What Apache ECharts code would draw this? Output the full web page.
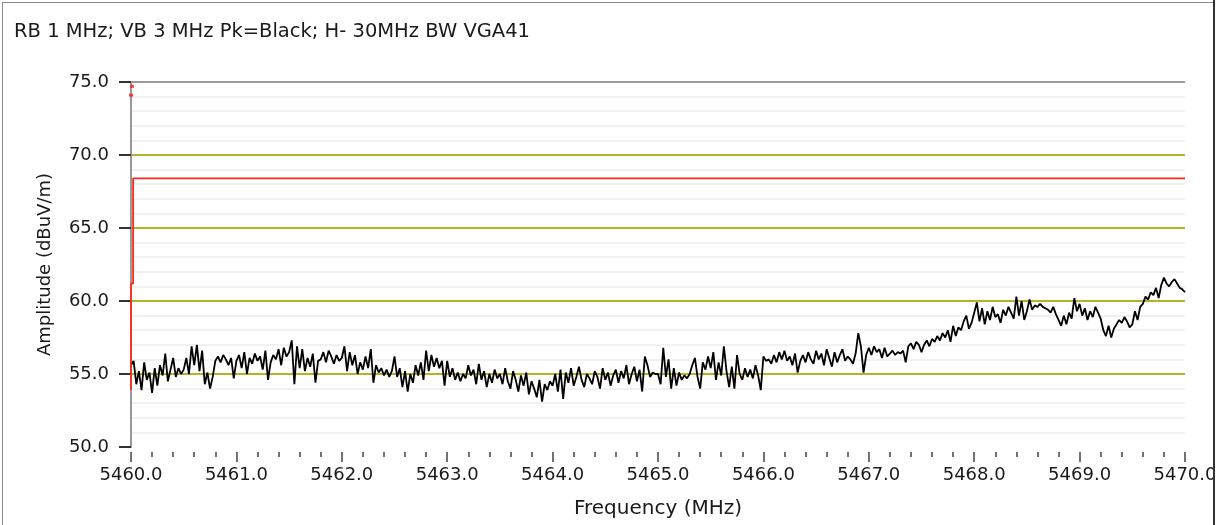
<!DOCTYPE html>
<html>
<head>
<meta charset="utf-8">
<script src="https://cdn.jsdelivr.net/npm/echarts@6/dist/echarts.min.js"></script>
<style>
  html, body { margin: 0; padding: 0; background: #fff; }
  #chart { position: absolute; left: 0; top: 0; width: 1214px; height: 525px; overflow: hidden; }
  #frameL { position: absolute; left: 2px; top: 2px; width: 1px; height: 523px; background: #8a8a8a; }
  #frameT { position: absolute; left: 2px; top: 2px; width: 1212px; height: 1px; background: #8a8a8a; }
  #frameR { position: absolute; left: 1213px; top: 0; width: 2px; height: 525px; background: #333; }
</style>
</head>
<body>
<div id="chart"></div>
<div id="frameL"></div><div id="frameT"></div><div id="frameR"></div>
<script>
// ---- data ----
const titleText = 'RB 1 MHz; VB 3 MHz Pk=Black; H- 30MHz BW VGA41';
const xName = 'Frequency (MHz)';
const yName = 'Amplitude (dBuV/m)';
const freqStart = 5460.0;   // MHz, sweep start
const freqStep = 0.025;     // MHz, sweep point spacing
const xMin = 5460, xMax = 5470, xInterval = 1;
const yMin = 50, yMax = 75, yInterval = 5;

// peak trace (dBuV/m), one point per 0.025 MHz
const peakTrace = [
  55.6, 55.9, 54.3, 55.2, 53.9, 55.8, 54.6, 55.1, 53.7, 55.4, 54.2, 55.6, 54.9, 56.4, 54.5, 55.3, 56.1, 54.8, 55.4, 55.0,
  55.3, 56.1, 55.0, 56.9, 55.6, 57.0, 55.2, 56.6, 54.3, 55.1, 54.0, 54.8, 55.9, 56.2, 55.8, 56.3, 56.0, 55.6, 56.1, 54.7,
  55.9, 56.3, 55.4, 56.5, 55.0, 56.1, 55.7, 56.4, 55.9, 56.2, 55.3, 56.6, 54.6, 55.8, 56.3, 56.0, 56.7, 55.6, 56.8, 56.2,
  56.5, 57.3, 54.3, 56.9, 55.4, 56.7, 55.2, 56.1, 55.5, 56.4, 54.4, 55.9, 56.0, 56.5, 55.8, 56.6, 56.2, 55.7, 56.3, 55.9,
  56.1, 56.9, 55.2, 56.5, 55.6, 56.3, 55.0, 55.8, 55.3, 56.2, 55.4, 56.7, 54.4, 55.6, 55.1, 55.4, 54.9, 55.3, 54.8, 55.2,
  56.2, 54.8, 55.4, 54.1, 55.2, 53.8, 55.0, 54.4, 55.6, 54.9, 55.8, 54.6, 56.6, 55.2, 56.3, 55.5, 56.1, 55.4, 55.9, 54.2,
  55.9, 54.8, 55.4, 54.6, 55.1, 54.5, 55.0, 54.7, 55.6, 54.9, 55.3, 54.3, 55.7, 54.6, 55.2, 54.1, 55.0, 54.4, 55.3, 54.7,
  55.0, 54.3, 55.4, 54.5, 54.0, 55.2, 54.6, 53.8, 54.9, 54.2, 55.1, 53.6, 54.5, 54.0, 53.4, 54.6, 53.1, 54.3, 53.9, 54.5,
  54.2, 55.0, 53.8, 55.3, 53.3, 55.1, 54.4, 55.4, 54.2, 54.8, 55.5, 54.6, 54.1, 55.0, 54.7, 54.3, 55.2, 54.8, 54.0, 55.4,
  54.6, 55.1, 54.2, 54.9, 55.3, 54.4, 55.2, 54.7, 55.6, 54.3, 55.0, 55.5, 54.5, 55.3, 53.8, 56.2, 55.6, 54.8, 55.1, 55.0,
  55.0, 54.3, 56.8, 54.8, 56.0, 54.0, 55.4, 54.2, 55.1, 54.6, 54.9, 54.7, 55.0, 55.6, 56.1, 54.8, 54.0, 55.8, 55.3, 56.2,
  55.4, 56.5, 54.6, 55.8, 54.9, 56.9, 55.2, 54.1, 55.5, 54.0, 56.3, 55.0, 54.6, 55.4, 54.8, 55.3, 54.7, 55.6, 54.9, 53.9,
  56.2, 55.9, 56.0, 55.7, 56.3, 55.8, 56.5, 56.0, 56.6, 55.9, 56.2, 55.6, 56.4, 55.1, 55.9, 56.3, 55.8, 56.5, 56.0, 55.7,
  56.6, 56.0, 56.4, 55.6, 56.7, 56.1, 55.5, 56.5, 55.8, 56.3, 56.7, 55.9, 56.2, 56.0, 55.7, 56.4, 57.8, 56.9, 55.1, 56.3,
  56.8, 56.3, 56.9, 56.5, 56.7, 56.1, 56.8, 56.2, 56.4, 56.6, 56.3, 56.5, 56.4, 56.6, 55.8, 56.9, 57.1, 56.7, 57.2, 57.0,
  56.5, 57.0, 57.3, 56.9, 57.4, 57.2, 57.6, 57.3, 57.8, 57.5, 58.0, 57.2, 58.3, 57.6, 58.2, 58.0, 58.6, 59.0, 58.1, 58.5,
  59.2, 59.9, 58.6, 59.5, 58.4, 59.3, 58.7, 59.6, 58.9, 59.1, 58.5, 59.4, 59.0, 59.6, 59.2, 58.8, 60.3, 59.0, 60.0, 58.7,
  59.3, 60.1, 59.4, 59.7, 59.6, 59.8, 59.6, 59.5, 59.4, 59.2, 59.6, 59.1, 58.7, 58.3, 59.0, 58.4, 59.2, 58.8, 60.2, 59.3,
  59.8, 59.0, 59.5, 58.7, 59.3, 58.9, 59.6, 59.2, 58.8, 58.0, 57.6, 58.3, 57.5, 58.1, 58.4, 58.7, 58.5, 58.9, 58.6, 58.2,
  58.4, 59.3, 58.7, 59.6, 59.8, 60.3, 60.1, 60.6, 60.4, 60.9, 60.2, 61.1, 61.6, 61.2, 61.0, 61.3, 61.5, 61.2, 60.9, 60.8,
  60.6
];

// limit line (red)
const limitFreq = [5460.0, 5460.0, 5460.02, 5460.02, 5470.0];
const limitAmp  = [53.9, 61.2, 61.2, 68.4, 68.4];

// small red marker dots near top-left
const markerFreq = [5460.01, 5460.0];
const markerAmp  = [74.7, 74.1];

// ---- build ----
const traceData = peakTrace.map((v, i) => [freqStart + i * freqStep, v]);
const limitData = limitFreq.map((f, i) => [f, limitAmp[i]]);
const markerData = markerFreq.map((f, i) => [f, markerAmp[i]]);

const FONT = 'DejaVu Sans';
const olive = '#b3b32a';
const chart = echarts.init(document.getElementById('chart'), null, { renderer: 'canvas' });
chart.setOption({
  animation: false,
  backgroundColor: '#fff',
  title: {
    text: titleText, left: 9, top: 17,
    textStyle: { fontFamily: FONT, fontSize: 19.5, fontWeight: 'normal', color: '#1a1a1a' }
  },
  grid: { left: 131, width: 1054, top: 82, height: 365, containLabel: false, outerBoundsMode: 'none' },
  xAxis: {
    type: 'value', min: xMin, max: xMax, interval: xInterval,
    offset: 5,
    name: xName, nameLocation: 'middle', nameGap: 47,
    nameTextStyle: { fontFamily: FONT, fontSize: 20, color: '#1a1a1a' },
    axisLine: { show: false },
    axisTick: { show: true, length: 10, lineStyle: { color: '#444', width: 1.5 } },
    minorTick: { show: true, splitNumber: 5, length: 5, lineStyle: { color: '#444', width: 1.5 } },
    axisLabel: { margin: 14, fontFamily: FONT, fontSize: 18, color: '#1a1a1a',
                 formatter: v => v.toFixed(1) },
    splitLine: { show: false }
  },
  yAxis: {
    type: 'value', min: yMin, max: yMax, interval: yInterval,
    name: yName, nameLocation: 'middle', nameGap: 77, nameRotate: 90,
    nameTextStyle: { fontFamily: FONT, fontSize: 18, color: '#1a1a1a' },
    axisLine: { show: true, lineStyle: { color: '#999', width: 2 } },
    axisTick: { show: true, length: 12, lineStyle: { color: '#333', width: 2 } },
    minorTick: { show: false, splitNumber: 5 },
    axisLabel: { margin: 22, fontFamily: FONT, fontSize: 18, color: '#1a1a1a',
                 formatter: v => v.toFixed(1) },
    splitLine: { show: true, lineStyle: { width: 2,
      color: ['rgba(0,0,0,0)', olive, olive, olive, olive, '#9a9a9a'] } },
    minorSplitLine: { show: true, lineStyle: { color: '#ededed', width: 1.5 } }
  },
  series: [
    {
      type: 'line', data: traceData, showSymbol: false, symbol: 'none',
      lineStyle: { color: '#000', width: 1.8 }, z: 3
    },
    {
      type: 'line', data: limitData, showSymbol: false, symbol: 'none',
      lineStyle: { color: '#ff2a1a', width: 1.8 }, z: 4
    },
    {
      type: 'scatter', data: markerData, symbol: 'rect', symbolSize: [4, 3],
      itemStyle: { color: '#ff1a1a' }, z: 5
    }
  ]
});
</script>
</body>
</html>
